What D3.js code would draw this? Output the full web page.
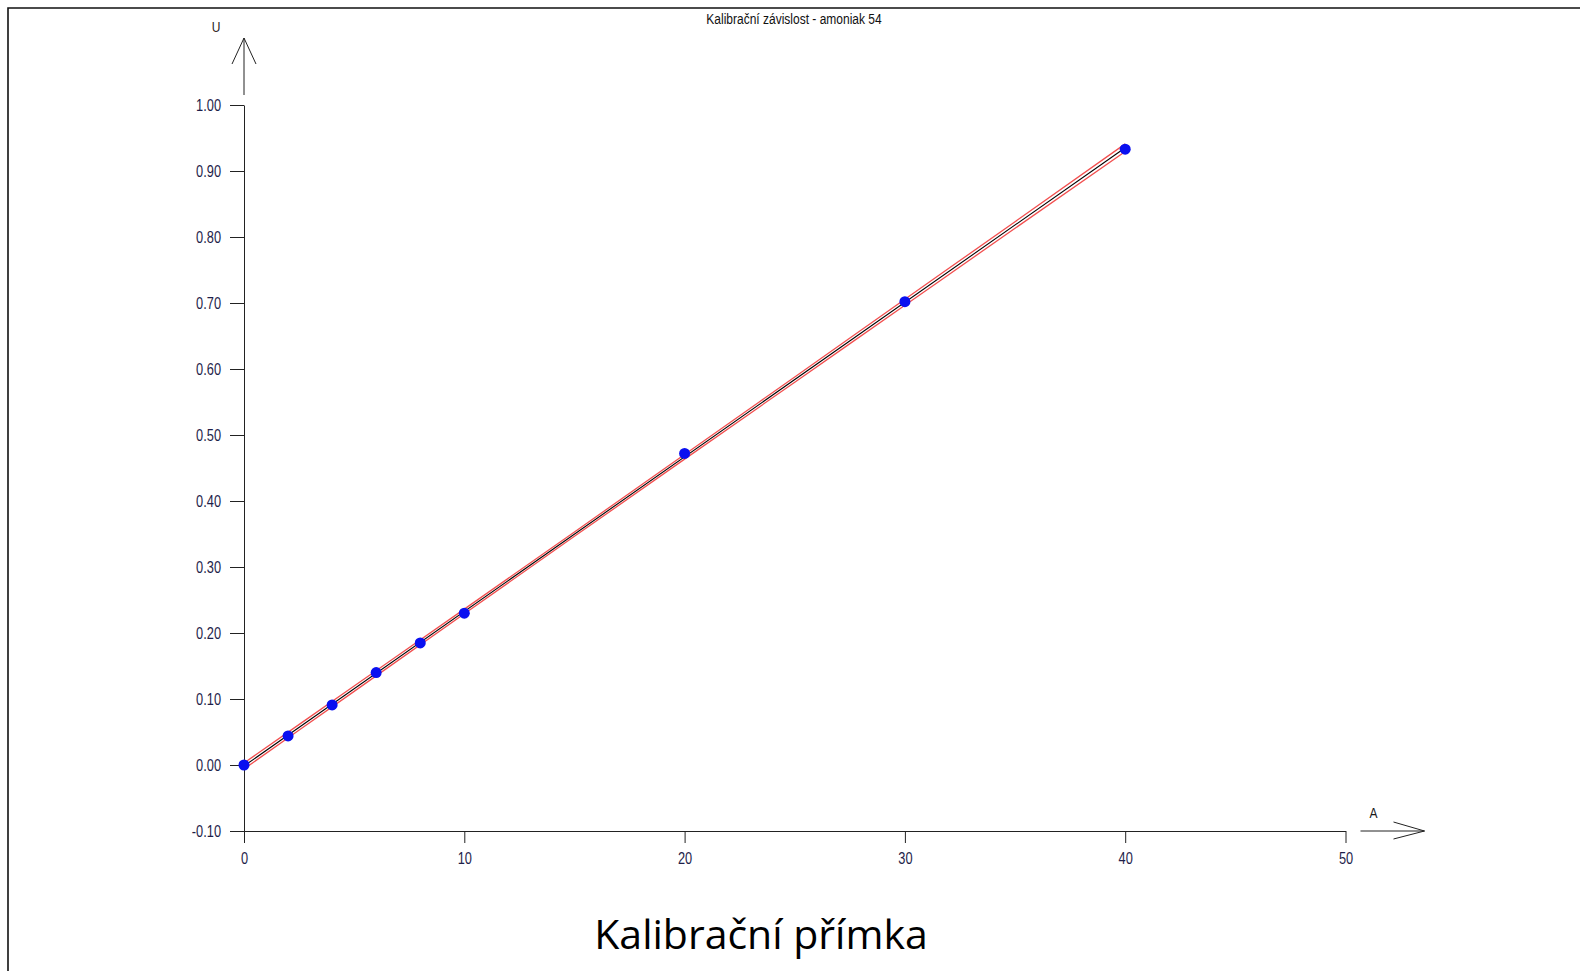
<!DOCTYPE html>
<html>
<head>
<meta charset="utf-8">
<script src="https://cdn.jsdelivr.net/npm/d3@7"></script>
<style>
  body { margin: 0; background: #fff; }
  svg { display: block; }
</style>
</head>
<body>
<div id="mydraw"></div>
<script>

///////////////////////////////////////////////
// data

var title    = "Kalibrační závislost - amoniak 54";
var caption  = "Kalibrační přímka";

var concX    = [0, 2, 4, 6, 8, 10, 20, 30, 40];
var signalU  = [0.000, 0.044, 0.091, 0.140, 0.185, 0.230, 0.472, 0.702, 0.933];

// fitted line (end points)
var fitX     = [0, 40];
var fitU     = [-0.0015, 0.9353];

// confidence band (red lines)
var bandX     = [0, 5, 10, 15, 20, 25, 30, 35, 40];
var bandUpper = [0.0030, 0.1196, 0.2362, 0.3531, 0.4704, 0.5880, 0.7056, 0.8232, 0.9411];
var bandLower = [-0.0060, 0.1116, 0.2292, 0.3465, 0.4634, 0.5800, 0.6966, 0.8132, 0.9295];

var xTicks   = [0, 10, 20, 30, 40, 50];
var yTicks   = [-0.1, 0, 0.1, 0.2, 0.3, 0.4, 0.5, 0.6, 0.7, 0.8, 0.9, 1.0];


///////////////////////////////////////////////
// chart

var width = 1580, height = 971;
var narrow = "'Liberation Sans', Arial, sans-serif";
var squeeze = 0.8;   // fake an Arial Narrow look

var svg = d3.select("div#mydraw").append("svg")
    .attr("width", width)
    .attr("height", height);

// frame (top + left edge only)
svg.append("path")
    .attr("d", "M8,971 L8,8 L1580,8")
    .attr("fill", "none")
    .attr("stroke", "#111")
    .attr("stroke-width", 1.6);

var x = d3.scaleLinear().domain([0, 50]).range([244, 1345.5]);
var y = d3.scaleLinear().domain([-0.1, 1.0]).range([831, 105]);

// ---------------
// axes

var fmtY = function(d) { return d3.format(".2f")(d).replace("\u2212", "-"); };

var yAxis = d3.axisLeft(y)
    .tickValues(yTicks)
    .tickSize(14)
    .tickSizeOuter(0)
    .tickPadding(8)
    .tickFormat(fmtY);

var xAxis = d3.axisBottom(x)
    .tickValues(xTicks)
    .tickSize(12)
    .tickSizeOuter(0)
    .tickPadding(10)
    .tickFormat(d3.format("d"));

var gy = svg.append("g")
    .attr("transform", "translate(" + x(0) + ",0)")
    .call(yAxis);

var gx = svg.append("g")
    .attr("transform", "translate(0," + y(-0.1) + ")")
    .call(xAxis);

[gx, gy].forEach(function(g) {
    g.selectAll("path.domain").attr("stroke", "#222").attr("stroke-width", 1);
    g.selectAll(".tick line").attr("stroke", "#222").attr("stroke-width", 1);
    g.selectAll(".tick text")
        .attr("fill", "#1e1e4a")
        .style("font-family", narrow)
        .style("font-size", "16px");
});

// squeeze labels horizontally around their anchor
gy.selectAll(".tick text")
    .attr("x", -23 / squeeze)
    .attr("transform", "scale(" + squeeze + ",1)");
gx.selectAll(".tick text")
    .attr("transform", "scale(" + squeeze + ",1)");

// arrow heads, drawn apart from the axis lines
var ax = x(0), ay = y(1.0);
svg.append("path")
    .attr("d", "M" + ax + "," + (ay - 10) + " L" + ax + "," + (ay - 67) +
               " M" + (ax - 12) + "," + (ay - 41) + " L" + ax + "," + (ay - 67) +
               " L" + (ax + 12) + "," + (ay - 41))
    .attr("fill", "none")
    .attr("stroke", "#222")
    .attr("stroke-width", 1);

var bx = x(50), by = y(-0.1);
svg.append("path")
    .attr("d", "M" + (bx + 15) + "," + by + " L" + (bx + 79) + "," + by +
               " M" + (bx + 48) + "," + (by - 9) + " L" + (bx + 79) + "," + by +
               " L" + (bx + 48) + "," + (by + 8))
    .attr("fill", "none")
    .attr("stroke", "#222")
    .attr("stroke-width", 1);

function narrowText(tx, ty, str, fill) {
    svg.append("text")
        .attr("transform", "translate(" + tx + "," + ty + ") scale(" + squeeze + ",1)")
        .attr("text-anchor", "middle")
        .attr("fill", fill)
        .style("font-family", narrow).style("font-size", "15px")
        .text(str);
}

narrowText(ax - 28, ay - 73, "U", "#2a1a1a");
narrowText(bx + 28, by - 13, "A", "#1a1a1a");

// ---------------
// title and caption

narrowText(794, 24, title, "#111");

svg.append("text")
    .attr("x", 761).attr("y", 949)
    .attr("text-anchor", "middle")
    .attr("fill", "#000")
    .style("font-family", "'Open Sans', 'Noto Sans', sans-serif")
    .style("font-size", "41px")
    .text(caption);

// ---------------
// band, fit, points

var band = d3.line()
    .x(function(d) { return x(d[0]); })
    .y(function(d) { return y(d[1]); })
    .curve(d3.curveMonotoneX);

[bandUpper, bandLower].forEach(function(b) {
    svg.append("path")
        .datum(d3.zip(bandX, b))
        .attr("d", band)
        .attr("fill", "none")
        .attr("stroke", "#f03030")
        .attr("stroke-opacity", 0.85)
        .attr("stroke-width", 1.3);
});

svg.append("path")
    .datum(d3.zip(fitX, fitU))
    .attr("d", band)
    .attr("fill", "none")
    .attr("stroke", "#000")
    .attr("stroke-width", 1.1);

svg.selectAll("circle.pt")
    .data(d3.zip(concX, signalU))
    .enter()
    .append("circle")
    .attr("class", "pt")
    .attr("cx", function(d) { return x(d[0]); })
    .attr("cy", function(d) { return y(d[1]); })
    .attr("r", 5.5)
    .attr("fill", "#0a10f0");

</script>
</body>
</html>
